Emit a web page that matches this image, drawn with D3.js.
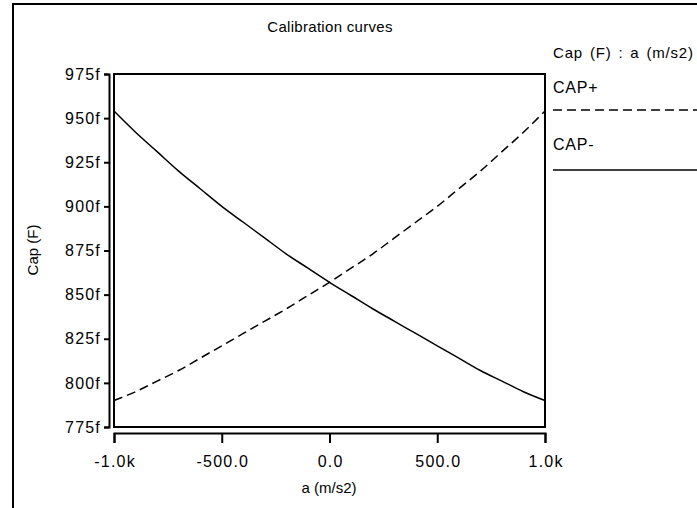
<!DOCTYPE html>
<html>
<head>
<meta charset="utf-8">
<script src="https://cdn.jsdelivr.net/npm/d3@7"></script>
<style>
    body { margin: 0; background: #fff; }
    text { font-family: "Liberation Sans", Arial, sans-serif; font-size: 15px; fill: #000; }
</style>
</head>
<body>
<div id="chart"></div>
<script>
// acceleration samples (m/s2)
const accel = [-1000, -900, -800, -700, -600, -500, -400, -300, -200, -100, 0,
    100, 200, 300, 400, 500, 600, 700, 800, 900, 1000];
// capacitance in fF
const capPlus = [790, 795, 801, 807, 814, 821, 828, 835, 842, 849.5, 857,
    865, 873, 882, 891, 900, 910, 920, 931, 942, 954];
const capMinus = [954, 942, 931, 920, 910, 900, 891, 882, 873, 865, 857,
    849.5, 842, 835, 828, 821, 814, 807, 801, 795, 790];
const xTicks = [-1000, -500, 0, 500, 1000];
const xTickLabels = ["-1.0k", "-500.0", "0.0", "500.0", "1.0k"];
const yTicks = [775, 800, 825, 850, 875, 900, 925, 950, 975];
const seriesNames = ["CAP+", "CAP-"];

class CalibChart {
    constructor(_parentElement) {
        this.parentElement = _parentElement;
        this.initVis();
    }

    initVis() {
        const vis = this;
        vis.width = 697;
        vis.height = 508;

        vis.svg = d3.select(vis.parentElement)
            .append("svg")
            .attr("width", vis.width)
            .attr("height", vis.height);

        // outer frame (only left and top edges show)
        vis.svg.append("path")
            .attr("d", "M13,508 V4 H697")
            .attr("fill", "none")
            .attr("stroke", "#000")
            .attr("stroke-width", 2);

        vis.x = d3.scaleLinear().domain([-1000, 1000]).range([114, 545]);
        vis.y = d3.scaleLinear().domain([775, 975]).range([427, 74]);

        // plot box
        vis.svg.append("rect")
            .attr("x", 114).attr("y", 74)
            .attr("width", 431).attr("height", 353)
            .attr("fill", "none")
            .attr("stroke", "#000")
            .attr("stroke-width", 2);

        const yAxis = d3.axisLeft(vis.y)
            .tickValues(yTicks)
            .tickSize(5)
            .tickPadding(3)
            .tickFormat(d => d + "f");
        vis.svg.append("g")
            .attr("transform", "translate(109,0)")
            .call(yAxis)
            .call(g => g.selectAll("path, line").attr("stroke-width", 2))
            .call(g => g.selectAll("text")
                .style("font-size", "16px")
                .style("letter-spacing", "1.2px")
                .attr("font-family", null));

        const xAxis = d3.axisBottom(vis.x)
            .tickValues(xTicks)
            .tickSize(10)
            .tickSizeOuter(10)
            .tickPadding(13)
            .tickFormat((d, i) => xTickLabels[i]);
        vis.svg.append("g")
            .attr("transform", "translate(0,433)")
            .call(xAxis)
            .call(g => g.selectAll("path, line").attr("stroke-width", 2))
            .call(g => g.selectAll("text")
                .style("font-size", "16px")
                .style("letter-spacing", "1.2px")
                .attr("dx", "0.6px")
                .attr("font-family", null));

        vis.svg.append("text")
            .attr("x", 330).attr("y", 32)
            .attr("text-anchor", "middle")
            .style("letter-spacing", "0.3px")
            .text("Calibration curves");

        vis.svg.append("text")
            .attr("x", 329).attr("y", 493)
            .attr("text-anchor", "middle")
            .text("a (m/s2)");

        vis.svg.append("text")
            .attr("transform", "translate(38,250) rotate(-90)")
            .attr("text-anchor", "middle")
            .text("Cap (F)");

        vis.wrangleData();
    }

    wrangleData() {
        const vis = this;
        vis.displayData = [
            { name: seriesNames[0], dash: "9,5", values: accel.map((a, i) => ({ a: a, c: capPlus[i] })) },
            { name: seriesNames[1], dash: null, values: accel.map((a, i) => ({ a: a, c: capMinus[i] })) }
        ];
        vis.updateVis();
    }

    updateVis() {
        const vis = this;
        const line = d3.line()
            .x(d => vis.x(d.a))
            .y(d => vis.y(d.c))
            .curve(d3.curveMonotoneX);

        vis.svg.append("g")
            .selectAll("path")
            .data(vis.displayData)
            .enter()
            .append("path")
            .attr("d", d => line(d.values))
            .attr("fill", "none")
            .attr("stroke", "#000")
            .attr("stroke-width", 1.5)
            .attr("stroke-dasharray", d => d.dash);

        // legend
        const lg = vis.svg.append("g");
        lg.append("text")
            .attr("x", 553).attr("y", 58)
            .style("letter-spacing", "0.8px")
            .style("word-spacing", "2px")
            .text("Cap (F) : a (m/s2)");
        vis.displayData.forEach((s, i) => {
            lg.append("text")
                .attr("x", 553).attr("y", 93 + i * 57)
                .style("font-size", "16px")
                .style("letter-spacing", "0.8px")
                .text(s.name);
            lg.append("line")
                .attr("x1", 553).attr("x2", 697)
                .attr("y1", 110 + i * 60).attr("y2", 110 + i * 60)
                .attr("stroke", "#000")
                .attr("stroke-width", 1.5)
                .attr("stroke-dasharray", s.dash);
        });
    }
}

new CalibChart("#chart");
</script>
</body>
</html>
